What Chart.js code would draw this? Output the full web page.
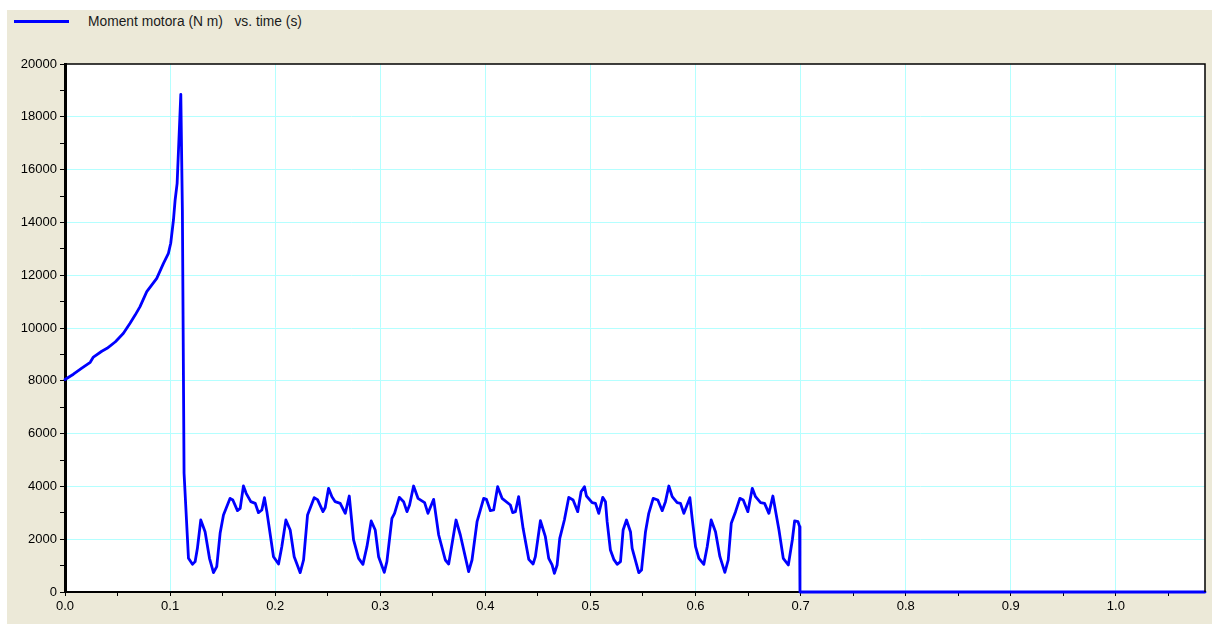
<!DOCTYPE html>
<html>
<head>
<meta charset="utf-8">
<script src="https://cdn.jsdelivr.net/npm/chart.js@4/dist/chart.umd.min.js"></script>
<style>
  body { margin: 0; background: #fff; width: 1212px; height: 624px; overflow: hidden; position: relative; font-family: "Liberation Sans", Arial, sans-serif; }
  #panel { position: absolute; left: 7px; top: 10px; width: 1205px; height: 614px; background: #ECE9D8; }
  #chart { position: absolute; left: 0; top: 0; }
  #legLine { position: absolute; left: 14px; top: 20px; width: 55px; height: 3px; background: #0000FF; }
  #legText { position: absolute; left: 88px; top: 14px; font-size: 13.8px; color: #1a1a1a; white-space: pre; }
</style>
</head>
<body>
<div id="panel"></div>
<div id="legLine"></div>
<div id="legText">Moment motora (N m)   vs. time (s)</div>
<canvas id="chart" width="1212" height="624"></canvas>
<script>
// vrijeme (s)
const time = [
  0, 0.008, 0.016, 0.024, 0.027, 0.035, 0.040, 0.048, 0.0556, 0.0619, 0.0666, 0.0714, 0.0778, 0.0873, 0.0937, 0.0984,
  0.1006, 0.1032, 0.1048, 0.1067, 0.1102, 0.1117, 0.1133, 0.1175, 0.1213, 0.1238, 0.126, 0.1292, 0.1333, 0.1375, 0.1413, 0.1444,
  0.1476, 0.1508, 0.1571, 0.1597, 0.1641, 0.1667, 0.1698, 0.1724, 0.1768, 0.181, 0.1841, 0.1873, 0.1898, 0.1921, 0.1984, 0.2032,
  0.2063, 0.2102, 0.2143, 0.2181, 0.2238, 0.227, 0.2308, 0.2371, 0.2403, 0.2455, 0.2476, 0.2508, 0.254, 0.2571, 0.2619, 0.2667,
  0.2705, 0.2746, 0.2794, 0.2835, 0.2873, 0.2914, 0.2952, 0.2984, 0.3038, 0.3063, 0.3111, 0.3136, 0.3181, 0.3222, 0.3254, 0.3279,
  0.3317, 0.3359, 0.3422, 0.3454, 0.3508, 0.3556, 0.3619, 0.3651, 0.3721, 0.3762, 0.3841, 0.3873, 0.3921, 0.3984, 0.401, 0.4048,
  0.4079, 0.4117, 0.4159, 0.4238, 0.426, 0.4286, 0.4317, 0.4359, 0.4413, 0.4454, 0.4476, 0.4524, 0.4571, 0.4603, 0.4635, 0.4657,
  0.4683, 0.4708, 0.4752, 0.4794, 0.4835, 0.4879, 0.4911, 0.4943, 0.4962, 0.5016, 0.5048, 0.5079, 0.5117, 0.5143, 0.5159, 0.519,
  0.5222, 0.5254, 0.5286, 0.5311, 0.5343, 0.5381, 0.5397, 0.546, 0.5486, 0.5524, 0.5555, 0.5597, 0.5641, 0.5683, 0.5714, 0.5746,
  0.5778, 0.5825, 0.5857, 0.5889, 0.5946, 0.5968, 0.6, 0.6032, 0.6079, 0.6111, 0.6149, 0.619, 0.6232, 0.6279, 0.6311, 0.634,
  0.6381, 0.6422, 0.6454, 0.6498, 0.654, 0.6571, 0.6619, 0.6657, 0.6698, 0.6736, 0.6794, 0.6835, 0.6883, 0.6921, 0.6943, 0.6975,
  0.699, 0.6994, 1.0848
];
// moment motora (N m)
const moment = [
  8050, 8250, 8480, 8700, 8900, 9120, 9230, 9480, 9800, 10180, 10480, 10810, 11380, 11880, 12450, 12830,
  13210, 14090, 14850, 15480, 18850, 14470, 4500, 1275, 1048, 1150, 1655, 2727, 2285, 1275, 733, 960,
  2222, 2917, 3548, 3485, 3081, 3169, 4015, 3737, 3422, 3359, 3005, 3106, 3573, 3043, 1338, 1061,
  1717, 2727, 2348, 1338, 733, 1212, 2917, 3573, 3500, 3043, 3200, 3928, 3611, 3422, 3359, 2980,
  3636, 1970, 1275, 1048, 1717, 2690, 2348, 1338, 745, 1150, 2790, 2980, 3586, 3422, 3043, 3295,
  4015, 3548, 3384, 2980, 3510, 2159, 1212, 1061, 2727, 2159, 770, 1212, 2663, 3548, 3510, 3081,
  3106, 3990, 3548, 3295, 3005, 3043, 3611, 2412, 1237, 1061, 1338, 2700, 2096, 1275, 1023, 707,
  1023, 2033, 2727, 3586, 3485, 3043, 3800, 3990, 3636, 3384, 3359, 2980, 3586, 3422, 2663, 1591,
  1237, 1048, 1150, 2348, 2727, 2285, 1655, 733, 833, 2285, 2980, 3548, 3485, 3081, 3422, 4015,
  3611, 3384, 3359, 2980, 3573, 2790, 1717, 1275, 1048, 1717, 2727, 2285, 1338, 745, 1212, 2602,
  3043, 3548, 3485, 3043, 3928, 3611, 3384, 3359, 2980, 3636, 2348, 1275, 1023, 1970, 2690, 2663,
  2475, 0, 0
];
const xMax = 1.0848;
const yMax = 20000;

const points = time.map((t, i) => ({ x: t, y: moment[i] }));
const gridCyan = '#B4FFFF';

const plotFrame = {
  id: 'plotFrame',
  beforeDraw(chart) {
    const a = chart.chartArea, c = chart.ctx;
    c.save();
    c.fillStyle = '#fff';
    c.fillRect(a.left, a.top, a.right - a.left, a.bottom - a.top);
    c.restore();
  },
  afterDraw(chart) {
    const a = chart.chartArea, c = chart.ctx;
    c.save();
    c.strokeStyle = '#000';
    c.lineWidth = 1.5;
    c.beginPath();
    c.moveTo(a.left, a.top);
    c.lineTo(a.right, a.top);
    c.lineTo(a.right, a.bottom);
    c.stroke();
    c.restore();
  }
};

new Chart(document.getElementById('chart'), {
  type: 'line',
  data: {
    datasets: [{
      label: 'Moment motora (N m)   vs. time (s)',
      data: points,
      borderColor: '#0000FF',
      borderWidth: 2.8,
      borderJoinStyle: 'round',
      borderCapStyle: 'round',
      pointRadius: 0,
      tension: 0,
      clip: false
    }]
  },
  options: {
    responsive: false,
    animation: false,
    layout: { padding: { left: 0, top: 64, right: 7, bottom: 0 } },
    plugins: { legend: { display: false }, tooltip: { enabled: false } },
    scales: {
      x: {
        type: 'linear',
        min: 0,
        max: xMax,
        afterFit: s => { s.height = 32; },
        border: { color: '#000', width: 2 },
        grid: {
          color: c => (Math.abs(c.tick.value * 10 - Math.round(c.tick.value * 10)) < 1e-6 && c.tick.value > 0) ? gridCyan : 'rgba(0,0,0,0)',
          tickColor: '#000',
          tickLength: 4,
          tickWidth: 1
        },
        ticks: {
          stepSize: 0.05,
          includeBounds: false,
          autoSkip: false,
          maxRotation: 0,
          padding: 3,
          color: '#000',
          font: { family: 'Liberation Sans', size: 13 },
          callback: v => (Math.abs(v * 10 - Math.round(v * 10)) < 1e-6) ? v.toFixed(1) : ''
        }
      },
      y: {
        min: 0,
        max: yMax,
        afterFit: s => { s.width = 65; },
        border: { color: '#000', width: 3 },
        grid: {
          color: c => (c.tick.value % 2000 === 0 && c.tick.value > 0 && c.tick.value < yMax) ? gridCyan : 'rgba(0,0,0,0)',
          tickColor: '#000',
          tickLength: 5,
          tickWidth: 1
        },
        ticks: {
          stepSize: 1000,
          autoSkip: false,
          padding: 3,
          color: '#000',
          font: { family: 'Liberation Sans', size: 13 },
          callback: v => v % 2000 === 0 ? String(v) : ''
        }
      }
    }
  },
  plugins: [plotFrame]
});
</script>
</body>
</html>
